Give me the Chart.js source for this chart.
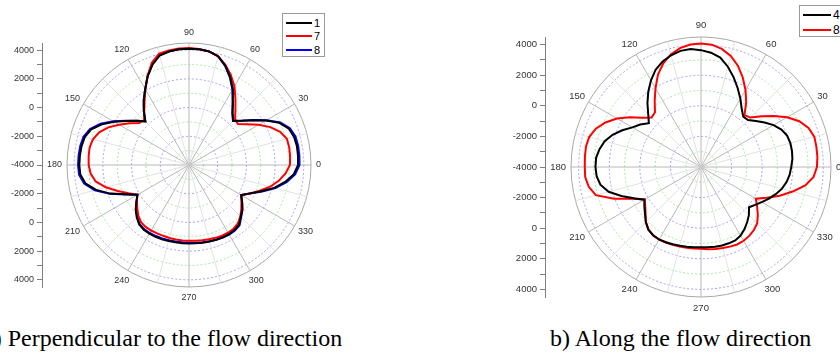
<!DOCTYPE html>
<html>
<head>
<meta charset="utf-8">
<script src="https://cdn.jsdelivr.net/npm/chart.js@4.4.1/dist/chart.umd.min.js"></script>
<style>
  html, body { margin: 0; padding: 0; background: #fff; }
  body { width: 840px; height: 355px; position: relative; overflow: hidden; }
  canvas { position: absolute; top: 0; }
  .legend { position: absolute; box-sizing: border-box; border: 1px solid #9a9a9a; background: #fff;
            font-family: "Liberation Sans", Arial, sans-serif; color: #000; }
  .legend .row { display: flex; align-items: center; white-space: nowrap; }
  .legend .stroke { display: inline-block; height: 2px; margin-right: 2px; }
  .caption { position: absolute; top: 325px; line-height: 24px; white-space: nowrap;
             font: 24px "Liberation Serif", "Times New Roman", serif; color: #000; }
</style>
</head>
<body>
<canvas id="chart-perp" width="340" height="325" style="left:0;width:340px;height:325px"></canvas>
<canvas id="chart-along" width="360" height="325" style="left:503px;width:360px;height:325px"></canvas>
<div id="legend-perp" class="legend" style="left:282px;top:13px;width:43px;height:44px;padding:2px 0 0 3px;font-size:11px"></div>
<div id="legend-along" class="legend" style="left:799px;top:5px;width:60px;height:32px;padding:1px 0 0 3px;font-size:12px"></div>
<div class="caption" style="left:-17px">a) Perpendicular to the flow direction</div>
<div class="caption" style="left:550px">b) Along the flow direction</div>

<script>
// angle categories, one every 5 degrees, counter-clockwise from 0
const ANGLES = Array.from({ length: 72 }, (_, i) => i * 5);
const ANGLE_LABELS = [0, 30, 60, 90, 120, 150, 180, 210, 240, 270, 300, 330];

// radial scale: centre is -4000, outer ring 4500
const R_MIN = -4000;
const R_MAX = 4500;
const RING_VALUES = [-4000, -3000, -2000, -1000, 0, 1000, 2000, 3000, 4000, 4500];
const SIDE_LABELS = [4000, 2000, 0, -2000, -4000];

// a) perpendicular to the flow direction
const perp1 = [
  3600, 3620, 3630, 3580, 3400, 2950, 2200, 1450, 800, 350, 720, 1330, 2100, 2780, 3380, 3850, 4040, 4095,
  4100, 4100, 4030, 3900, 3440, 2810, 2100, 1500, 900, 300, 790, 1330, 2020, 2700, 3250, 3520, 3600, 3630,
  3640, 3600, 3330, 2700, 1830, 830, 150, 480, 850, 1150, 1400, 1500, 1530, 1520, 1510, 1480, 1470, 1470,
  1470, 1480, 1500, 1520, 1540, 1560, 1560, 1530, 1430, 1100, 850, 520, 200, 680, 1350, 2150, 2800, 3330,
];
const perp7 = [
  3030, 3070, 3090, 3060, 2760, 2250, 1600, 950, 450, 540, 1030, 1640, 2330, 2900, 3420, 3840, 4040, 4120,
  4150, 4140, 4110, 4040, 3580, 2840, 2080, 1400, 850, 420, 550, 1070, 1620, 2200, 2660, 2930, 3030, 3020,
  2990, 2880, 2600, 2000, 1280, 650, 160, 430, 700, 1000, 1200, 1270, 1270, 1260, 1250, 1260, 1270, 1280,
  1280, 1300, 1330, 1360, 1400, 1440, 1450, 1420, 1300, 1060, 760, 460, 200, 700, 1250, 1850, 2350, 2750,
];
const perp8 = [
  3700, 3720, 3720, 3680, 3480, 3020, 2250, 1470, 800, 330, 700, 1300, 2060, 2740, 3350, 3830, 4030, 4090,
  4100, 4100, 4040, 3920, 3470, 2830, 2110, 1500, 890, 300, 800, 1370, 2080, 2790, 3340, 3610, 3690, 3720,
  3730, 3690, 3420, 2790, 1880, 850, 150, 460, 820, 1110, 1360, 1450, 1470, 1460, 1450, 1420, 1410, 1410,
  1410, 1430, 1460, 1500, 1540, 1580, 1600, 1580, 1480, 1140, 860, 520, 200, 700, 1420, 2230, 2900, 3420,
];

// b) along the flow direction
const along4 = [
  1900, 2000, 2040, 2050, 1990, 1800, 1480, 1080, 680, 350, 300, 640, 1150, 1680, 2240, 2790, 3260, 3500,
  3640, 3740, 3710, 3560, 3340, 3020, 2540, 2010, 1450, 880, 450, 850, 1180, 1680, 2150, 2520, 2740, 2885,
  2900, 2850, 2680, 2250, 1540, 850, 280, 520, 780, 1100, 1360, 1450, 1470, 1430, 1380, 1330, 1290, 1270,
  1250, 1270, 1300, 1310, 1310, 1300, 1180, 960, 700, 430, 100, 320, 590, 900, 1200, 1480, 1680, 1820,
];
const along8 = [
  3580, 3640, 3660, 3670, 3480, 3090, 2500, 1820, 1160, 570, 420, 1150, 1820, 2460, 3050, 3520, 3840, 4030,
  4080, 4040, 3890, 3620, 3210, 2660, 1950, 1280, 680, 570, 1000, 1670, 2350, 2890, 3320, 3570, 3640, 3620,
  3600, 3600, 3450, 3120, 2050, 900, 240, 450, 730, 1100, 1330, 1460, 1480, 1450, 1420, 1390, 1370, 1350,
  1350, 1400, 1450, 1480, 1540, 1590, 1570, 1500, 1380, 1200, 850, 480, 140, 750, 1480, 2200, 2920, 3390,
];

Chart.defaults.font.family = '"Liberation Sans", Arial, sans-serif';
Chart.defaults.color = '#333';

// the radar runs clockwise from startAngle, so flip the angle order
function clockwise(values) {
  return values.map((_, i) => values[(values.length - i) % values.length]);
}

function ringColor(value) {
  if (value === R_MAX) return '#a8a8a8';
  if (value === R_MIN) return 'rgba(0,0,0,0)';
  return value % 2000 === 0 ? '#a2a2ff' : '#a8e6a8';
}

function spokeColor(index) {
  if (index % 6 === 0) return '#b8b8b8';
  if (index % 3 === 0) return '#e2e2e2';
  return 'rgba(0,0,0,0)';
}

// angle labels sit just outside the outer ring
const angleLabels = {
  id: 'angleLabels',
  afterDraw(chart, args, opts) {
    const scale = chart.scales.r;
    const ctx = chart.ctx;
    ctx.save();
    ctx.font = `${opts.size}px "Liberation Sans", Arial, sans-serif`;
    ctx.fillStyle = '#333';
    ctx.textAlign = 'center';
    ctx.textBaseline = 'middle';
    ANGLE_LABELS.forEach((deg) => {
      const index = (ANGLES.length - ANGLES.indexOf(deg)) % ANGLES.length;
      const p = scale.getPointPosition(index, scale.drawingArea + opts.gap);
      const texte = String(deg);
      const w = ctx.measureText(texte).width;
      const rad = deg * Math.PI / 180;
      ctx.fillText(texte, p.x + Math.cos(rad) * w / 2, p.y - Math.sin(rad) * opts.size * 0.65);
    });
    ctx.restore();
  },
};

function dessinerPolaire(canvasId, series, cadre, fontSize) {
  const span = R_MAX - R_MIN;
  const sideTicks = [];
  RING_VALUES.filter((v) => v !== R_MAX).forEach((v) => {
    sideTicks.push(v - R_MIN);
    if (v !== R_MIN) sideTicks.push(R_MIN - v);
  });
  sideTicks.sort((a, b) => a - b);

  return new Chart(document.getElementById(canvasId), {
    type: 'radar',
    data: {
      labels: clockwise(ANGLES),
      datasets: series.map((s) => ({
        label: s.label,
        data: clockwise(s.data),
        borderColor: s.color,
        backgroundColor: 'rgba(0,0,0,0)',
        borderWidth: 2,
        fill: false,
        pointRadius: 0,
        tension: 0,
      })),
    },
    options: {
      responsive: false,
      devicePixelRatio: 1,
      animation: false,
      layout: { padding: cadre },
      plugins: {
        legend: { display: false },
        tooltip: { enabled: false },
        angleLabels: { size: fontSize, gap: 5 },
      },
      scales: {
        r: {
          min: R_MIN,
          max: R_MAX,
          startAngle: 90,
          afterBuildTicks: (scale) => { scale.ticks = RING_VALUES.map((value) => ({ value })); },
          ticks: { display: false },
          pointLabels: { display: false },
          grid: { circular: true, lineWidth: 1, color: (c) => ringColor(c.tick.value) },
          border: { dash: (c) => (c.tick && c.tick.value === R_MAX ? [] : [2, 2]) },
          angleLines: { lineWidth: 1, color: (c) => spokeColor(c.index) },
        },
        y: {
          type: 'linear',
          position: 'left',
          min: -span,
          max: span,
          afterBuildTicks: (scale) => { scale.ticks = sideTicks.map((value) => ({ value })); },
          afterFit: (scale) => { scale.width = 42; },
          grid: { drawOnChartArea: false, drawTicks: true, tickLength: 5, color: '#808080' },
          border: { display: true, color: '#808080' },
          ticks: {
            autoSkip: false,
            padding: 3,
            font: { size: fontSize },
            color: '#333',
            callback: (value) => {
              const v = Math.abs(value) + R_MIN;
              return SIDE_LABELS.includes(v) ? String(v) : '';
            },
          },
        },
      },
    },
    plugins: [angleLabels],
  });
}

function construireLegende(elId, chart, rowHeight, strokeWidth) {
  const el = document.getElementById(elId);
  chart.data.datasets.forEach((ds) => {
    const row = document.createElement('div');
    row.className = 'row';
    row.style.height = rowHeight + 'px';
    const trait = document.createElement('span');
    trait.className = 'stroke';
    trait.style.width = strokeWidth + 'px';
    trait.style.background = ds.borderColor;
    const txt = document.createElement('span');
    txt.textContent = ds.label;
    row.append(trait, txt);
    el.appendChild(row);
  });
}

const chartPerp = dessinerPolaire('chart-perp', [
  { label: '1', data: perp1, color: '#000000' },
  { label: '7', data: perp7, color: '#ff0000' },
  { label: '8', data: perp8, color: '#0000ff' },
], { left: 0, top: 43, right: 3, bottom: 38 }, 9);

const chartAlong = dessinerPolaire('chart-along', [
  { label: '4', data: along4, color: '#000000' },
  { label: '8', data: along8, color: '#ff0000' },
], { left: 0, top: 37, right: 6, bottom: 28 }, 9.5);

construireLegende('legend-perp', chartPerp, 13.5, 26);
construireLegende('legend-along', chartAlong, 15, 28);
</script>
</body>
</html>
